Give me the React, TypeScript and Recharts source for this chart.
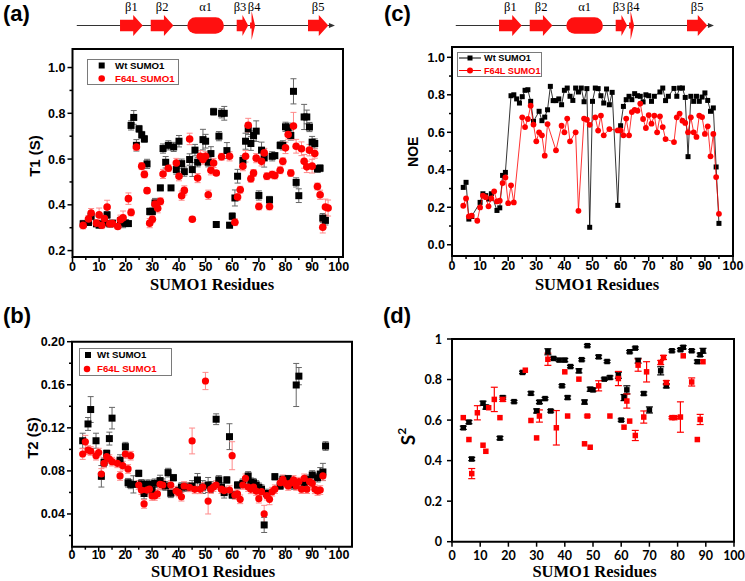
import React from 'react';
import { ScatterChart, Scatter, ComposedChart, XAxis, YAxis, ErrorBar, ReferenceArea, Legend } from 'recharts';

const RED = '#ff0000';
const SS_RED = '#ff1010';
const SANS = "'Liberation Sans', Arial, Helvetica, sans-serif";
const SERIF = "'Liberation Serif', 'Times New Roman', serif";
const CAL = "Lato, 'Open Sans', sans-serif";

// ---------- secondary structure ----------
const SS_LABELS = ['β1', 'β2', 'α1', 'β3', 'β4', 'β5'];
const SS_KINDS = ['strand', 'strand', 'helix', 'strand', 'narrow', 'strand'];
const SS_START = [17.8, 29.3, 43.0, 61.5, 66.5, 88.2];
const SS_END = [26.3, 37.8, 56.7, 65.8, 68.4, 95.8];
const SS_SPAN = [1.6, 98.3];
// label nudges (layout only, px)
const SS_LABEL_DX = [0, 0, 0, -2.5, 1.5, 0];

// ---------- series names ----------
const WT_NAME = 'Wt SUMO1';
const MUT_NAME = 'F64L SUMO1';

// ---------- (a) T1 ----------
const T1_WT_RES = [4,6,7,9,10,11,12,13,14,15,18,19,20,21,22,23,24,25,26,27,28,29,30,31,33,34,35,36,37,38,39,40,41,42,44,45,46,47,49,50,51,52,53,54,55,56,57,58,59,60,61,62,64,65,66,67,68,69,70,71,72,74,75,76,78,79,80,81,82,83,84,85,87,88,89,90,91,92,93,94,95];
const T1_WT_VAL = [0.317,0.323,0.35,0.317,0.311,0.317,0.323,0.356,0.317,0.32,0.33,0.32,0.32,0.318,0.747,0.782,0.66,0.732,0.706,0.688,0.579,0.371,0.371,0.408,0.474,0.646,0.586,0.66,0.474,0.653,0.554,0.678,0.58,0.545,0.598,0.554,0.639,0.586,0.685,0.678,0.586,0.624,0.807,0.314,0.70,0.80,0.80,0.637,0.311,0.35,0.43,0.525,0.594,0.678,0.732,0.668,0.703,0.722,0.441,0.639,0.605,0.422,0.612,0.615,0.66,0.66,0.741,0.737,0.703,0.896,0.498,0.44,0.784,0.784,0.74,0.674,0.668,0.557,0.56,0.342,0.332];
const T1_WT_ERR = [0.015,0.012,0.015,0.01,0.01,0.01,0.012,0.015,0.01,0.01,0.015,0.02,0.015,0.01,0.02,0.03,0.025,0.015,0.015,0.015,0.02,0.015,0.015,0.02,0.012,0.02,0.025,0.02,0.01,0.02,0.02,0.025,0.02,0.02,0.025,0.03,0.025,0.02,0.045,0.03,0.02,0.03,0.015,0.01,0.02,0.02,0.03,0.035,0.012,0.015,0.035,0.03,0.02,0.035,0.025,0.03,0.02,0.045,0.02,0.035,0.04,0.015,0.02,0.01,0.015,0.02,0.02,0.02,0.02,0.055,0.02,0.03,0.055,0.03,0.02,0.025,0.02,0.015,0.015,0.02,0.02];
const T1_MUT_RES = [4,6,7,9,10,11,12,13,14,15,17,18,19,21,22,24,26,27,28,29,30,31,32,33,34,36,39,40,41,42,44,45,47,48,49,50,51,52,53,54,56,59,61,62,63,64,65,66,67,68,69,70,71,72,73,74,75,76,78,79,80,81,82,83,84,86,87,88,89,90,91,92,93,94,95,96];
const T1_MUT_VAL = [0.31,0.338,0.364,0.32,0.356,0.311,0.34,0.39,0.317,0.318,0.305,0.335,0.343,0.427,0.367,0.653,0.569,0.533,0.462,0.32,0.337,0.403,0.385,0.415,0.535,0.56,0.583,0.525,0.44,0.463,0.688,0.337,0.517,0.612,0.598,0.612,0.444,0.551,0.583,0.539,0.61,0.612,0.324,0.434,0.466,0.569,0.612,0.748,0.514,0.539,0.604,0.393,0.59,0.627,0.525,0.393,0.532,0.528,0.551,0.59,0.649,0.707,0.539,0.744,0.656,0.645,0.59,0.566,0.639,0.569,0.624,0.48,0.444,0.302,0.39,0.386];
const T1_MUT_ERR = [0.015,0.015,0.02,0.015,0.03,0.015,0.02,0.03,0.015,0.015,0.01,0.02,0.03,0.025,0.015,0.015,0.015,0.015,0.012,0.02,0.015,0.02,0.02,0.015,0.02,0.015,0.02,0.02,0.02,0.02,0.025,0.01,0.02,0.025,0.02,0.02,0.02,0.02,0.02,0.01,0.015,0.02,0.015,0.015,0.015,0.02,0.025,0.03,0.015,0.015,0.02,0.015,0.02,0.02,0.015,0.015,0.015,0.015,0.015,0.015,0.025,0.02,0.015,0.06,0.03,0.03,0.03,0.025,0.025,0.03,0.02,0.015,0.02,0.025,0.035,0.035];

// ---------- (b) T2 ----------
const T2_WT_RES = [4,6,7,9,11,12,13,14,15,18,20,21,22,23,25,26,27,28,29,30,31,33,34,35,36,37,38,40,41,43,45,47,49,51,52,54,55,56,57,58,59,60,62,64,66,67,68,69,70,71,72,73,76,78,79,81,82,83,84,85,87,88,90,92,93,94,95];
const T2_WT_VAL = [0.108,0.1236,0.137,0.108,0.075,0.088,0.0963,0.11,0.129,0.09,0.1025,0.069,0.0675,0.0675,0.0777,0.068,0.059,0.0675,0.0675,0.0622,0.0685,0.071,0.0675,0.066,0.0784,0.0592,0.0737,0.0617,0.065,0.065,0.066,0.0716,0.065,0.0669,0.065,0.128,0.0716,0.065,0.0598,0.0716,0.1118,0.0576,0.0669,0.0685,0.0753,0.0694,0.069,0.0669,0.0647,0.063,0.0298,0.059,0.0746,0.066,0.0722,0.0728,0.0685,0.0669,0.1598,0.168,0.069,0.0722,0.0762,0.0737,0.0771,0.079,0.1031];
const T2_WT_ERR = [0.007,0.006,0.012,0.007,0.01,0.004,0.003,0.006,0.01,0.005,0.004,0.004,0.004,0.008,0.003,0.004,0.005,0.004,0.004,0.006,0.004,0.005,0.005,0.004,0.004,0.004,0.003,0.004,0.004,0.004,0.005,0.006,0.006,0.007,0.005,0.005,0.004,0.004,0.005,0.003,0.012,0.003,0.003,0.004,0.004,0.004,0.004,0.004,0.004,0.004,0.007,0.004,0.003,0.003,0.003,0.003,0.003,0.004,0.02,0.008,0.004,0.004,0.004,0.004,0.006,0.008,0.004];
const T2_MUT_RES = [4,5,6,7,9,10,11,12,13,14,15,17,18,19,20,21,22,25,26,27,28,29,30,31,32,33,34,37,39,40,41,42,44,45,46,48,49,50,51,52,53,54,56,57,59,60,61,62,63,64,65,66,67,68,69,70,71,72,73,74,75,76,78,79,80,81,82,83,84,85,86,87,88,89,90,91,92,93,94];
const T2_MUT_VAL = [0.0957,0.107,0.0994,0.0985,0.0941,0.097,0.0771,0.087,0.0932,0.091,0.0886,0.087,0.0753,0.0849,0.0957,0.0818,0.0941,0.0669,0.0622,0.0493,0.0622,0.063,0.0567,0.0567,0.0586,0.0675,0.0669,0.0669,0.0613,0.06,0.056,0.066,0.0647,0.1078,0.0629,0.0629,0.065,0.1635,0.052,0.063,0.065,0.0669,0.063,0.0617,0.0622,0.0941,0.0576,0.0586,0.0536,0.0669,0.0731,0.065,0.0629,0.065,0.0613,0.0542,0.0607,0.04,0.057,0.0536,0.0607,0.063,0.069,0.0722,0.0685,0.066,0.069,0.0716,0.066,0.07,0.063,0.0731,0.063,0.07,0.0685,0.0629,0.0613,0.0622,0.0753];
const T2_MUT_ERR = [0.005,0.006,0.004,0.004,0.004,0.004,0.005,0.004,0.004,0.004,0.004,0.004,0.004,0.004,0.004,0.004,0.004,0.004,0.004,0.004,0.004,0.004,0.004,0.004,0.004,0.004,0.004,0.004,0.004,0.004,0.004,0.004,0.004,0.012,0.004,0.004,0.004,0.008,0.012,0.004,0.004,0.004,0.004,0.004,0.004,0.013,0.004,0.004,0.004,0.004,0.004,0.004,0.004,0.004,0.004,0.004,0.004,0.008,0.004,0.005,0.004,0.004,0.004,0.004,0.004,0.004,0.004,0.004,0.004,0.004,0.004,0.004,0.004,0.004,0.004,0.004,0.004,0.004,0.004];

// ---------- (c) NOE ----------
const NOE_WT_RES = [4,5,6,7,10,11,12,13,14,16,17,18,19,21,22,23,24,25,26,27,28,29,31,32,33,34,35,36,37,38,39,40,41,42,43,44,45,46,47,48,49,50,51,52,53,54,55,56,57,59,60,61,62,63,64,65,66,67,68,69,70,71,72,74,75,76,77,79,80,81,82,83,84,85,86,87,88,89,90,91,92,93,94,95];
const NOE_WT_VAL = [0.306,0.333,0.137,0.151,0.226,0.272,0.262,0.244,0.272,0.183,0.197,0.37,0.386,0.795,0.80,0.778,0.756,0.79,0.824,0.827,0.765,0.658,0.712,0.662,0.681,0.72,0.845,0.769,0.769,0.778,0.747,0.824,0.836,0.792,0.770,0.836,0.815,0.836,0.763,0.833,0.093,0.765,0.836,0.833,0.795,0.756,0.831,0.747,0.813,0.21,0.635,0.738,0.774,0.792,0.774,0.806,0.795,0.792,0.762,0.8,0.795,0.765,0.792,0.815,0.836,0.769,0.792,0.834,0.792,0.836,0.836,0.786,0.47,0.792,0.765,0.792,0.765,0.788,0.81,0.77,0.712,0.73,0.415,0.114];
const NOE_MUT_RES = [4,5,6,7,9,10,11,12,13,14,15,16,17,18,19,20,21,22,25,26,27,28,29,30,31,32,33,34,37,39,40,41,42,44,45,47,48,49,51,52,53,54,56,59,60,61,62,63,64,65,66,67,68,69,70,71,72,73,74,75,76,79,80,81,82,83,84,85,86,87,88,89,90,91,92,93,94,95];
const NOE_MUT_VAL = [0.208,0.247,0.151,0.155,0.128,0.199,0.262,0.254,0.205,0.247,0.285,0.231,0.235,0.329,0.359,0.222,0.317,0.226,0.68,0.628,0.671,0.742,0.641,0.552,0.6,0.584,0.475,0.644,0.504,0.635,0.6,0.673,0.552,0.6,0.181,0.673,0.667,0.64,0.68,0.609,0.689,0.584,0.617,0.61,0.61,0.584,0.673,0.584,0.708,0.72,0.715,0.753,0.671,0.623,0.692,0.646,0.689,0.6,0.685,0.628,0.564,0.548,0.68,0.7,0.662,0.65,0.6,0.68,0.6,0.575,0.689,0.681,0.591,0.632,0.472,0.591,0.361,0.165];

// ---------- (d) S2 ----------
const S2_WT_RES = [4,6,7,11,12,17,18,22,25,28,30,31,33,34,35,36,38,39,40,41,42,45,46,47,48,49,50,52,54,55,56,59,60,61,62,63,65,66,68,70,74,76,78,81,82,85,87,88,89];
const S2_WT_VAL = [0.562,0.59,0.408,0.683,0.664,0.511,0.711,0.691,0.835,0.732,0.645,0.689,0.706,0.937,0.645,0.904,0.896,0.769,0.896,0.711,0.864,0.843,0.898,0.689,0.967,0.752,0.749,0.912,0.802,0.889,0.81,0.821,0.6,0.711,0.749,0.937,0.955,0.893,0.731,0.65,0.843,0.769,0.942,0.947,0.959,0.942,0.888,0.922,0.942];
const S2_WT_ERR = [0.008,0.008,0.008,0.01,0.01,0.008,0.008,0.006,0.006,0.008,0.01,0.008,0.006,0.015,0.006,0.006,0.006,0.006,0.008,0.008,0.006,0.01,0.006,0.01,0.006,0.01,0.008,0.008,0.006,0.006,0.008,0.015,0.006,0.015,0.02,0.006,0.006,0.012,0.008,0.015,0.02,0.01,0.006,0.006,0.008,0.006,0.008,0.008,0.012];
const S2_MUT_RES = [4,6,7,9,11,12,13,15,17,18,26,28,30,31,34,37,40,41,45,47,48,49,52,56,59,61,62,63,65,66,68,69,74,75,76,78,79,81,82,85,87,88,89];
const S2_MUT_VAL = [0.612,0.504,0.336,0.636,0.476,0.446,0.661,0.702,0.612,0.702,0.846,0.598,0.512,0.62,0.9,0.562,0.838,0.62,0.802,0.483,0.62,0.466,0.769,0.62,0.805,0.565,0.694,0.595,0.524,0.871,0.615,0.838,0.884,0.909,0.785,0.612,0.612,0.615,0.917,0.788,0.504,0.603,0.888];
const S2_MUT_ERR = [0,0,0.025,0.035,0,0,0,0.06,0,0.01,0,0,0,0.03,0.03,0.085,0,0,0,0,0.005,0,0.025,0,0.035,0,0.035,0,0.025,0.03,0.03,0.05,0.01,0.01,0.01,0.005,0.005,0.075,0,0.02,0,0.025,0];

// ---------- ticks ----------
const X_TICKS_5 = [0,5,10,15,20,25,30,35,40,45,50,55,60,65,70,75,80,85,90,95,100];
const X_TICKS_10 = [0,10,20,30,40,50,60,70,80,90,100];
const T1_TICKS = [0.2,0.3,0.4,0.5,0.6,0.7,0.8,0.9,1.0];
const T2_TICKS = [0.02,0.04,0.06,0.08,0.10,0.12,0.14,0.16,0.18,0.20];
const NOE_TICKS = [0,0.1,0.2,0.3,0.4,0.5,0.6,0.7,0.8,0.9,1.0];
const S2_TICKS = [0,0.2,0.4,0.6,0.8,1];

// ---------- domains ----------
const A_XD: [number, number] = [0, 101.6];
const A_YD: [number, number] = [0.172, 1.081];
const B_XD: [number, number] = [0, 104.9];
const B_YD: [number, number] = [0.0096, 0.2];
const C_XD: [number, number] = [0, 100];
const C_YD: [number, number] = [-0.06, 1.055];
const D_XD: [number, number] = [0, 100];
const D_YD: [number, number] = [0, 1];

const pts = (xs: number[], ys: number[], es?: number[]) =>
  xs.map((x, i) => ({ x, y: ys[i], e: es ? es[i] : 0 }));

const t1Wt = pts(T1_WT_RES, T1_WT_VAL, T1_WT_ERR);
const t1Mut = pts(T1_MUT_RES, T1_MUT_VAL, T1_MUT_ERR);
const t2Wt = pts(T2_WT_RES, T2_WT_VAL, T2_WT_ERR);
const t2Mut = pts(T2_MUT_RES, T2_MUT_VAL, T2_MUT_ERR);
const noeWt = pts(NOE_WT_RES, NOE_WT_VAL);
const noeMut = pts(NOE_MUT_RES, NOE_MUT_VAL);
const s2Wt = pts(S2_WT_RES, S2_WT_VAL, S2_WT_ERR);
const s2Mut = pts(S2_MUT_RES, S2_MUT_VAL, S2_MUT_ERR);
const ssRows = SS_LABELS.map((label, i) => ({ label, kind: SS_KINDS[i], start: SS_START[i], end: SS_END[i], dx: SS_LABEL_DX[i] }));

const isMajor = (v: number, step: number) => Math.abs(v / step - Math.round(v / step)) < 1e-6;

function XTick(props: any) {
  const { x, y, payload, step, fmt, font, size, len, mlen, gap } = props;
  const v = payload.value;
  const mj = isMajor(v, step);
  return (
    <g>
      <line x1={x} y1={y} x2={x} y2={y + (mj ? len : mlen)} stroke="#000" strokeWidth={1.5} />
      {mj && (
        <text x={x} y={y + len + gap} dy="0.78em" textAnchor="middle" fontFamily={font} fontSize={size} fontWeight={700} fill="#000">
          {fmt(v)}
        </text>
      )}
    </g>
  );
}

function YTick(props: any) {
  const { x, y, payload, step, fmt, font, size, len, mlen, gap } = props;
  const v = payload.value;
  const mj = isMajor(v, step);
  return (
    <g>
      <line x1={x} y1={y} x2={x - (mj ? len : mlen)} y2={y} stroke="#000" strokeWidth={1.5} />
      {mj && (
        <text x={x - len - gap} y={y} dy="0.36em" textAnchor="end" fontFamily={font} fontSize={size} fontWeight={700} fill="#000">
          {fmt(v)}
        </text>
      )}
    </g>
  );
}

const fmtInt = (v: number) => String(Math.round(v));
const fmt1 = (v: number) => v.toFixed(1);
const fmt2 = (v: number) => v.toFixed(2);
const fmtXl = (v: number) => String(+v.toFixed(1));

const hTitle = (text: string, x: number, y: number) => () => (
  <text x={x} y={y} textAnchor="middle" fontFamily={SERIF} fontWeight={700} fontSize={16.5} fill="#000">
    {text}
  </text>
);
const vTitle = (text: string, x: number, y: number, size: number, family: string) => () => (
  <text x={x} y={y} transform={`rotate(-90 ${x} ${y})`} textAnchor="middle" dominantBaseline="central" fontFamily={family} fontWeight={700} fontSize={size} fill="#000">
    {text}
  </text>
);
const s2Title = (x: number, y: number) => () => (
  <text x={x} y={y} transform={`rotate(-90 ${x} ${y})`} textAnchor="middle" dominantBaseline="central" fontFamily={CAL} fontWeight={700} fontSize={19} fill="#000">
    S<tspan dy={-7} fontSize={12}>2</tspan>
  </text>
);

const sq = (s: number, fill: string) => (p: any) =>
  p.cx == null ? <g /> : <rect x={p.cx - s / 2} y={p.cy - s / 2} width={s} height={s} fill={fill} />;
const ci = (r: number, fill: string) => (p: any) =>
  p.cx == null ? <g /> : <circle cx={p.cx} cy={p.cy} r={r} fill={fill} />;

function LegendBox(props: any) {
  const { w, h, rows, fontSize, line, lineX } = props;
  return (
    <svg width={w} height={h} style={{ display: 'block' }}>
      <rect x={0.5} y={0.5} width={w - 1} height={h - 1} fill="#fff" stroke="#7a7a7a" strokeWidth={1} />
      {rows.map((r: any, i: number) => (
        <g key={i}>
          {line && <line x1={lineX[0]} y1={r.y} x2={lineX[1]} y2={r.y} stroke={r.color} strokeWidth={1} />}
          {r.marker === 'square' ? (
            <rect x={r.mx - r.ms / 2} y={r.y - r.ms / 2} width={r.ms} height={r.ms} fill={r.color} />
          ) : (
            <circle cx={r.mx} cy={r.y} r={r.ms / 2} fill={r.color} />
          )}
          <text x={r.tx} y={r.y} dy="0.36em" fontFamily={SANS} fontWeight={700} fontSize={fontSize} fill={r.color}>
            {r.name}
          </text>
        </g>
      ))}
    </svg>
  );
}

function Structure({ left }: { left: number }) {
  const spine = (p: any) => {
    const { x, y, width: w, height: h } = p;
    const cy = y + h / 2;
    return (
      <g>
        <line x1={x} y1={cy} x2={x + w - 4} y2={cy} stroke="#333" strokeWidth={1.2} />
        <polygon points={`${x + w},${cy} ${x + w - 6},${cy - 2.5} ${x + w - 6},${cy + 2.5}`} fill="#333" />
      </g>
    );
  };
  const shape = (kind: string) => (p: any) => {
    const { x, y, width: w, height: h } = p;
    const cy = y + h / 2;
    if (kind === 'helix') {
      return <rect x={x} y={cy - 8.3} width={w} height={16.6} rx={8.3} ry={8.3} fill={SS_RED} />;
    }
    let q: number[][];
    if (kind === 'narrow') {
      q = [[x, cy - 3], [x + 1.5, cy - 3], [x + 1.5, cy - 14.5], [x + w, cy], [x + 1.5, cy + 14.5], [x + 1.5, cy + 3], [x, cy + 3]];
    } else {
      const head = Math.min(9.5, w * 0.5);
      const bx = x + w - head;
      q = [[x, cy - 5.7], [bx, cy - 5.7], [bx, cy - 10.5], [x + w, cy], [bx, cy + 10.5], [bx, cy + 5.7], [x, cy + 5.7]];
    }
    return <polygon points={q.map((a) => a.join(',')).join(' ')} fill={SS_RED} />;
  };
  const lab = (text: string, dx: number) => (p: any) => {
    const vb = p.viewBox || {};
    return (
      <text x={vb.x + vb.width / 2 + dx} y={vb.y - 4} textAnchor="middle" fontFamily={SERIF} fontSize={12.5} fill="#000">
        {text}
      </text>
    );
  };
  return (
    <div style={{ position: 'absolute', left, top: 0 }}>
      <ComposedChart width={360} height={45} data={ssRows} margin={{ top: 15, right: 20.5, bottom: 9, left: 72.5 }}>
        <XAxis type="number" dataKey="start" domain={[0, 100]} hide allowDataOverflow />
        <YAxis type="number" domain={[0, 1]} hide allowDataOverflow />
        <ReferenceArea x1={SS_SPAN[0]} x2={SS_SPAN[1]} y1={0} y2={1} shape={spine} ifOverflow="visible" />
        {ssRows.map((r) => (
          <ReferenceArea key={r.label} x1={r.start} x2={r.end} y1={0} y2={1} shape={shape(r.kind)} label={{ content: lab(r.label, r.dx) }} ifOverflow="visible" />
        ))}
      </ComposedChart>
    </div>
  );
}

const frame = (xd: [number, number], yd: [number, number]) => (
  <ReferenceArea x1={xd[0]} x2={xd[1]} y1={yd[0]} y2={yd[1]} fill="none" fillOpacity={0} stroke="#000" strokeWidth={2} ifOverflow="visible" />
);

const tickCommon = { font: SANS, size: 12.5, len: 5, mlen: 3, gap: -1 };
const tickB = { font: SANS, size: 12.5, len: 5, mlen: 3, gap: -2 };
const tickD = { font: CAL, size: 12.5, len: 5, mlen: 5, gap: 3.5 };

const letterStyle: React.CSSProperties = {
  position: 'absolute', fontFamily: SANS, fontWeight: 700, fontSize: 22, lineHeight: '22px', color: '#000',
};

export default function App() {
  return (
    <div style={{ position: 'absolute', left: 0, top: 0, width: 745, height: 581, background: '#fff', overflow: 'hidden' }}>
      <div style={{ ...letterStyle, left: 3, top: 3 }}>(a)</div>
      <div style={{ ...letterStyle, left: 384, top: 3 }}>(c)</div>
      <div style={{ ...letterStyle, left: 3, top: 305 }}>(b)</div>
      <div style={{ ...letterStyle, left: 383, top: 305 }}>(d)</div>

      <Structure left={0} />
      <Structure left={379} />

      {/* (a) T1 */}
      <div style={{ position: 'absolute', left: -4, top: 40 }}>
        <ScatterChart width={360} height={255} margin={{ top: 9, right: 13, bottom: 0, left: 0 }}>
          <XAxis type="number" dataKey="x" domain={A_XD} ticks={X_TICKS_5} interval={0} allowDataOverflow axisLine={false} tickLine={false} tickSize={0} tickMargin={0} height={38}
            tick={<XTick step={10} fmt={fmtInt} {...tickCommon} />} label={{ content: hTitle('SUMO1 Residues', 216, 250) }} />
          <YAxis type="number" dataKey="y" domain={A_YD} ticks={T1_TICKS} interval={0} allowDataOverflow axisLine={false} tickLine={false} tickSize={0} tickMargin={0} width={76.5}
            tick={<YTick step={0.2} fmt={fmt1} {...tickCommon} gap={2} />} label={{ content: vTitle('T1 (S)', 38, 116, 15, SANS) }} />
          {frame(A_XD, A_YD)}
          <Scatter name={WT_NAME} data={t1Wt} fill="#000" shape={sq(7, '#000')} isAnimationActive={false}>
            <ErrorBar dataKey="e" direction="y" width={3} stroke="#666" strokeWidth={1} isAnimationActive={false} />
          </Scatter>
          <Scatter name={MUT_NAME} data={t1Mut} fill={RED} shape={ci(3.8, RED)} isAnimationActive={false}>
            <ErrorBar dataKey="e" direction="y" width={3} stroke="#ff8a8a" strokeWidth={1} isAnimationActive={false} />
          </Scatter>
          <Legend layout="horizontal" verticalAlign="middle" align="center" wrapperStyle={{ left: 91, top: 19, width: 92, height: 26 }}
            content={() => (
              <LegendBox w={92} h={26} fontSize={9.7} rows={[
                { name: WT_NAME, color: '#000', marker: 'square', ms: 6, mx: 14.7, tx: 28, y: 6.5 },
                { name: MUT_NAME, color: RED, marker: 'circle', ms: 6.5, mx: 14.7, tx: 28, y: 19.5 },
              ]} />
            )} />
        </ScatterChart>
      </div>

      {/* (b) T2 */}
      <div style={{ position: 'absolute', left: -4, top: 330 }}>
        <ScatterChart width={365} height={252} margin={{ top: 11.7, right: 9, bottom: 0, left: 0 }}>
          <XAxis type="number" dataKey="x" domain={B_XD} ticks={X_TICKS_5} interval={0} allowDataOverflow axisLine={false} tickLine={false} tickSize={0} tickMargin={0} height={35.3}
            tick={<XTick step={10} fmt={fmtInt} {...tickB} />} label={{ content: hTitle('SUMO1 Residues', 217, 247) }} />
          <YAxis type="number" dataKey="y" domain={B_YD} ticks={T2_TICKS} interval={0} allowDataOverflow axisLine={false} tickLine={false} tickSize={0} tickMargin={0} width={76}
            tick={<YTick step={0.04} fmt={fmt2} {...tickB} gap={2} />} label={{ content: vTitle('T2 (S)', 36.5, 108, 15, SANS) }} />
          {frame(B_XD, B_YD)}
          <Scatter name={WT_NAME} data={t2Wt} fill="#000" shape={sq(7, '#000')} isAnimationActive={false}>
            <ErrorBar dataKey="e" direction="y" width={3} stroke="#666" strokeWidth={1} isAnimationActive={false} />
          </Scatter>
          <Scatter name={MUT_NAME} data={t2Mut} fill={RED} shape={ci(3.6, RED)} isAnimationActive={false}>
            <ErrorBar dataKey="e" direction="y" width={3} stroke="#ff8a8a" strokeWidth={1} isAnimationActive={false} />
          </Scatter>
          <Legend layout="horizontal" verticalAlign="middle" align="center" wrapperStyle={{ left: 83, top: 18, width: 93, height: 28 }}
            content={() => (
              <LegendBox w={93} h={28} fontSize={9.7} rows={[
                { name: WT_NAME, color: '#000', marker: 'square', ms: 6, mx: 9, tx: 18, y: 7 },
                { name: MUT_NAME, color: RED, marker: 'circle', ms: 6.5, mx: 8, tx: 18, y: 21 },
              ]} />
            )} />
        </ScatterChart>
      </div>

      {/* (c) NOE */}
      <div style={{ position: 'absolute', left: 380, top: 38 }}>
        <ScatterChart width={365} height={257} margin={{ top: 9, right: 12, bottom: 0, left: 0 }}>
          <XAxis type="number" dataKey="x" domain={C_XD} ticks={X_TICKS_5} interval={0} allowDataOverflow axisLine={false} tickLine={false} tickSize={0} tickMargin={0} height={39}
            tick={<XTick step={10} fmt={fmtInt} {...tickCommon} />} label={{ content: hTitle('SUMO1 Residues', 217, 252) }} />
          <YAxis type="number" dataKey="y" domain={C_YD} ticks={NOE_TICKS} interval={0} allowDataOverflow axisLine={false} tickLine={false} tickSize={0} tickMargin={0} width={72}
            tick={<YTick step={0.2} fmt={fmt1} {...tickCommon} gap={2} />} label={{ content: vTitle('NOE', 32.7, 113.7, 14, SANS) }} />
          {frame(C_XD, C_YD)}
          <Scatter name={WT_NAME} data={noeWt} fill="#000" line={{ stroke: '#000', strokeWidth: 0.8 }} lineJointType="linear" shape={sq(5, '#000')} isAnimationActive={false} />
          <Scatter name={MUT_NAME} data={noeMut} fill={RED} line={{ stroke: RED, strokeWidth: 0.8 }} lineJointType="linear" shape={ci(2.9, RED)} isAnimationActive={false} />
          <Legend layout="horizontal" verticalAlign="middle" align="center" wrapperStyle={{ left: 76.5, top: 13.5, width: 85, height: 25 }}
            content={() => (
              <LegendBox w={85} h={25} fontSize={9.2} line lineX={[2, 24]} rows={[
                { name: WT_NAME, color: '#000', marker: 'square', ms: 5, mx: 13, tx: 27, y: 6 },
                { name: MUT_NAME, color: RED, marker: 'circle', ms: 6, mx: 13, tx: 27, y: 18.5 },
              ]} />
            )} />
        </ScatterChart>
      </div>

      {/* (d) S2 */}
      <div style={{ position: 'absolute', left: 380, top: 330 }}>
        <ScatterChart width={365} height={252} margin={{ top: 9, right: 11, bottom: 0, left: 0 }}>
          <XAxis type="number" dataKey="x" domain={D_XD} ticks={X_TICKS_10} interval={0} allowDataOverflow axisLine={false} tickLine={false} tickSize={0} tickMargin={0} height={40.3}
            tick={<XTick step={10} fmt={fmtInt} {...tickD} />} label={{ content: hTitle('SUMO1 Residues', 214.5, 247) }} />
          <YAxis type="number" dataKey="y" domain={D_YD} ticks={S2_TICKS} interval={0} allowDataOverflow axisLine={false} tickLine={false} tickSize={0} tickMargin={0} width={72}
            tick={<YTick step={0.2} fmt={fmtXl} {...tickD} gap={5} />} label={{ content: s2Title(27.7, 106.5) }} />
          {frame(D_XD, D_YD)}
          <Scatter name={WT_NAME} data={s2Wt} fill="#000" shape={sq(5.5, '#000')} isAnimationActive={false}>
            <ErrorBar dataKey="e" direction="y" width={3.5} stroke="#000" strokeWidth={1.2} isAnimationActive={false} />
          </Scatter>
          <Scatter name={MUT_NAME} data={s2Mut} fill={RED} shape={sq(5.5, RED)} isAnimationActive={false}>
            <ErrorBar dataKey="e" direction="y" width={3.5} stroke={RED} strokeWidth={1.2} isAnimationActive={false} />
          </Scatter>
        </ScatterChart>
      </div>
    </div>
  );
}
